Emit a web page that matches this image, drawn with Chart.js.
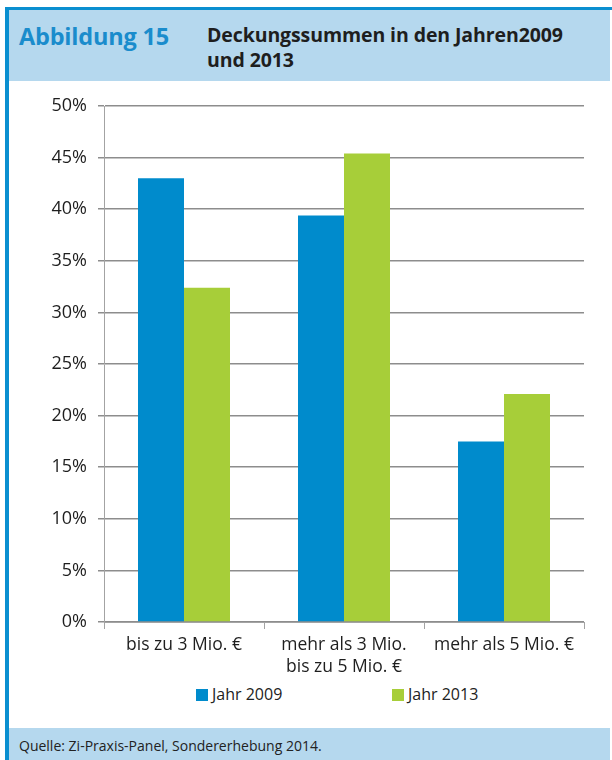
<!DOCTYPE html>
<html lang="de">
<head>
<meta charset="utf-8">
<title>Deckungssummen 2009 und 2013</title>
<script src="https://cdn.jsdelivr.net/npm/chart.js@4/dist/chart.umd.min.js"></script>
<style>
  html, body { margin: 0; padding: 0; background: #fff; }
  body { width: 612px; height: 760px; position: relative; overflow: hidden; font-family: "Open Sans", sans-serif; }
  .frame { position: absolute; left: 5px; top: 7px; width: 605px; height: 760px; border-left: 4px solid #0a8fd0; border-top: 3px solid #0a8fd0; border-right: 1px solid #7cc0e6; }
  .head { position: absolute; left: 9px; top: 10px; width: 601px; height: 71px; background: #b5d8ee; }
  .head .num { position: absolute; left: 10px; top: 10px; font-size: 23.5px; font-weight: 700; color: #1a8ccc; letter-spacing: -0.2px; }
  .head .title { position: absolute; left: 198px; top: 12px; font-size: 19.5px; font-weight: 700; color: #1e1e1e; line-height: 25px; letter-spacing: -0.1px; }
  .foot { position: absolute; left: 9px; top: 728px; width: 601px; height: 32px; background: #b5d8ee; }
  .foot span { position: absolute; left: 10px; top: 8px; font-size: 14px; color: #222; }
  #chartBox { position: absolute; left: 9px; top: 81px; width: 601px; height: 600px; }
  #legend { position: absolute; top: 683px; left: 0; width: 612px; height: 20px; font-size: 16px; color: #222; }
  #legend .item { position: absolute; top: 0; white-space: nowrap; }
  #legend .box { display: inline-block; width: 12px; height: 12px; margin-right: 4px; vertical-align: -1px; }
</style>
</head>
<body>
<div class="frame"></div>
<div class="head">
  <div class="num">Abbildung 15</div>
  <div class="title">Deckungssummen in den Jahren2009<br>und 2013</div>
</div>
<div id="chartBox"><canvas id="chart" width="601" height="600"></canvas></div>
<div id="legend"></div>
<div class="foot"><span>Quelle: Zi-Praxis-Panel, Sondererhebung 2014.</span></div>

<script>
const categories = [
    'bis zu 3 Mio. €',
    ['mehr als 3 Mio.', 'bis zu 5 Mio. €'],
    'mehr als 5 Mio. €'
];
const seriesNames = ['Jahr 2009', 'Jahr 2013'];
const values2009 = [43.0, 39.4, 17.5];
const values2013 = [32.4, 45.4, 22.1];
const seriesColors = ['#008bcc', '#a7ce39'];
const yTicks = [0, 5, 10, 15, 20, 25, 30, 35, 40, 45, 50];

const axisGrey = '#a3a3a3';
const gridGrey = '#8d8d8d';

// legend sits under the axis labels, drawn as plain markup
const legendPos = [196, 392];
const legendEl = document.getElementById('legend');
seriesNames.forEach((name, i) => {
    const item = document.createElement('div');
    item.className = 'item';
    item.style.left = legendPos[i] + 'px';
    item.innerHTML = `<span class="box" style="background:${seriesColors[i]}"></span>${name}`;
    legendEl.appendChild(item);
});

const ctx = document.getElementById('chart').getContext('2d');
new Chart(ctx, {
    type: 'bar',
    data: {
        labels: categories,
        datasets: [
            { label: seriesNames[0], data: values2009, backgroundColor: seriesColors[0] },
            { label: seriesNames[1], data: values2013, backgroundColor: seriesColors[1] }
        ]
    },
    options: {
        responsive: false,
        animation: false,
        events: [],
        categoryPercentage: 0.575,
        barPercentage: 1,
        layout: { padding: { top: 25, right: 26, bottom: 0, left: 0 } },
        plugins: {
            legend: { display: false },
            tooltip: { enabled: false }
        },
        scales: {
            x: {
                afterFit: (scale) => { scale.height = 59; },
                grid: {
                    offset: true,
                    drawOnChartArea: false,
                    color: axisGrey,
                    tickLength: 7
                },
                border: { color: axisGrey, width: 1 },
                ticks: {
                    color: '#1e1e1e',
                    padding: 5,
                    font: { family: '"Open Sans"', size: 17.5, lineHeight: 1.25 },
                    maxRotation: 0
                }
            },
            y: {
                min: 0,
                max: 50,
                afterFit: (scale) => { scale.width = 95; },
                afterBuildTicks: (scale) => { scale.ticks = yTicks.map(v => ({ value: v })); },
                grid: {
                    color: gridGrey,
                    lineWidth: 1.5,
                    tickLength: 6
                },
                border: { color: axisGrey, width: 1 },
                ticks: {
                    color: '#1e1e1e',
                    padding: 11,
                    font: { family: '"Open Sans"', size: 18 },
                    callback: (v) => v + '%'
                }
            }
        }
    }
});
</script>
</body>
</html>
